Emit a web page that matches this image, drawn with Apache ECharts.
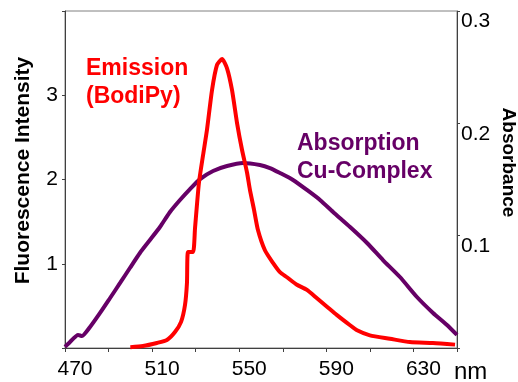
<!DOCTYPE html>
<html>
<head>
<meta charset="utf-8">
<script src="https://cdn.jsdelivr.net/npm/echarts@6/dist/echarts.min.js"></script>
<style>
html,body{margin:0;padding:0;background:#fff;}
#c{width:518px;height:382px;}
</style>
</head>
<body>
<div id="c"></div>
<script>
// Emission (BodiPy), fluorescence intensity vs wavelength (nm)
const emissionNm = [500,505.8,512.2,516.8,520.5,523.3,525.1,526.0,526.5,528.8,529.7,531.5,533.4,535.2,537.5,539.8,542.1,544.4,546.7,549.0,551.3,553.6,554.9,556.8,558.6,561.8,565.5,568.7,571.9,576.5,581.1,585.7,590.3,594.9,600.9,604.1,610.0,619.2,628.4,639.0,649.1];
const emissionVal = [0.01,0.024,0.06,0.095,0.19,0.31,0.51,0.77,1.14,1.14,1.42,1.96,2.29,2.59,3.06,3.36,3.43,3.32,3.06,2.67,2.35,2.08,1.88,1.64,1.40,1.16,1.01,0.90,0.84,0.75,0.69,0.59,0.49,0.39,0.27,0.21,0.15,0.11,0.07,0.06,0.04];
// Absorption Cu-Complex, absorbance vs wavelength (nm)
const absorbNm = [470.0,472.3,476.0,477.8,481.5,486.1,490.7,495.3,499.8,504.4,509.0,513.6,518.2,522.8,527.4,532.0,538.0,544.4,551.7,559.5,564.1,568.7,574.7,581.1,587.1,593.1,600.9,608.7,616.0,623.8,631.6,639.0,645.4,650.0];
const absorbVal = [0.001,0.0053,0.0116,0.0107,0.0187,0.0312,0.0445,0.0579,0.0712,0.0846,0.0961,0.1077,0.1211,0.1318,0.1415,0.1504,0.1576,0.1620,0.1647,0.1629,0.1602,0.1558,0.1496,0.1407,0.1318,0.1211,0.1077,0.0935,0.0783,0.0632,0.0454,0.0312,0.0205,0.0116];
const xTickLabels = [470,510,550,590,630];
const leftTickLabels = [1,2,3];
const rightTickLabels = [0.1,0.2,0.3];

const FONT = "Arial, 'Liberation Sans', sans-serif";
const zip = (a,b) => a.map((v,i)=>[v,b[i]]);
const axisCol = '#404040';

const chart = echarts.init(document.getElementById('c'), null, {renderer:'canvas'});
chart.setOption({
  animation:false,
  backgroundColor:'#fff',
  grid:{left:65, right:61, top:11, bottom:34, show:true, borderColor:'#808080', borderWidth:1, containLabel:false, outerBoundsMode:'none'},
  xAxis:{
    type:'value', min:470, max:650, interval:20,
    name:'nm', nameLocation:'end', nameGap:-3,
    nameTextStyle:{fontFamily:FONT, fontSize:24, color:'#000', align:'left', verticalAlign:'top', padding:[12,0,0,0]},
    axisLine:{show:true, lineStyle:{color:axisCol, width:1}},
    axisTick:{show:true, length:4, lineStyle:{color:axisCol}},
    splitLine:{show:false},
    axisLabel:{fontFamily:FONT, fontSize:21, color:'#000', margin:11, padding:[0,0,0,20],
      formatter:v => xTickLabels.includes(Math.round(v)) ? String(Math.round(v)) : ''}
  },
  yAxis:[{
    type:'value', min:0, max:4, interval:1, position:'left',
    name:'Fluorescence Intensity', nameLocation:'middle', nameGap:31, nameRotate:90,
    nameTextStyle:{fontFamily:FONT, fontSize:21, fontWeight:'bold', color:'#000', padding:[0,0,0,18]},
    axisLine:{show:true, lineStyle:{color:axisCol, width:1}},
    axisTick:{show:true, length:3, lineStyle:{color:axisCol}},
    splitLine:{show:false},
    axisLabel:{fontFamily:FONT, fontSize:21, color:'#000', margin:7,
      formatter:v => leftTickLabels.includes(Math.round(v)) && Math.abs(v-Math.round(v))<1e-6 ? String(Math.round(v)) : ''}
  },{
    type:'value', min:0, max:0.3, interval:0.1, position:'right',
    name:'Absorbance', nameLocation:'middle', nameGap:42, nameRotate:-90, nameMoveOverlap:false,
    nameTextStyle:{fontFamily:FONT, fontSize:19, fontWeight:'bold', color:'#000', padding:[0,34,0,0]},
    axisLine:{show:true, lineStyle:{color:axisCol, width:1}},
    axisTick:{show:true, length:3, lineStyle:{color:axisCol}},
    splitLine:{show:false},
    axisLabel:{fontFamily:FONT, fontSize:21, color:'#000', margin:4, verticalAlign:'top',
      formatter:v => { const s = v.toFixed(1); return rightTickLabels.map(x=>x.toFixed(1)).includes(s) ? s : ''; }}
  }],
  graphic:[
    {type:'text', left:86, top:55, style:{text:'Emission\n(BodiPy)', fill:'#FF0000', font:"bold 23px "+FONT, lineHeight:28}},
    {type:'text', left:297, top:130, style:{text:'Absorption\nCu-Complex', fill:'#660066', font:"bold 23px "+FONT, lineHeight:28}}
  ],
  series:[
    {type:'line', name:'Absorption Cu-Complex', yAxisIndex:1, data:zip(absorbNm,absorbVal), showSymbol:false, smooth:0.2,
      lineStyle:{color:'#660066', width:4}, itemStyle:{color:'#660066'}, z:2},
    {type:'line', name:'Emission (BodiPy)', yAxisIndex:0, data:zip(emissionNm,emissionVal), showSymbol:false, smooth:0.2,
      lineStyle:{color:'#FF0000', width:4}, itemStyle:{color:'#FF0000'}, z:3}
  ]
});
</script>
</body>
</html>
